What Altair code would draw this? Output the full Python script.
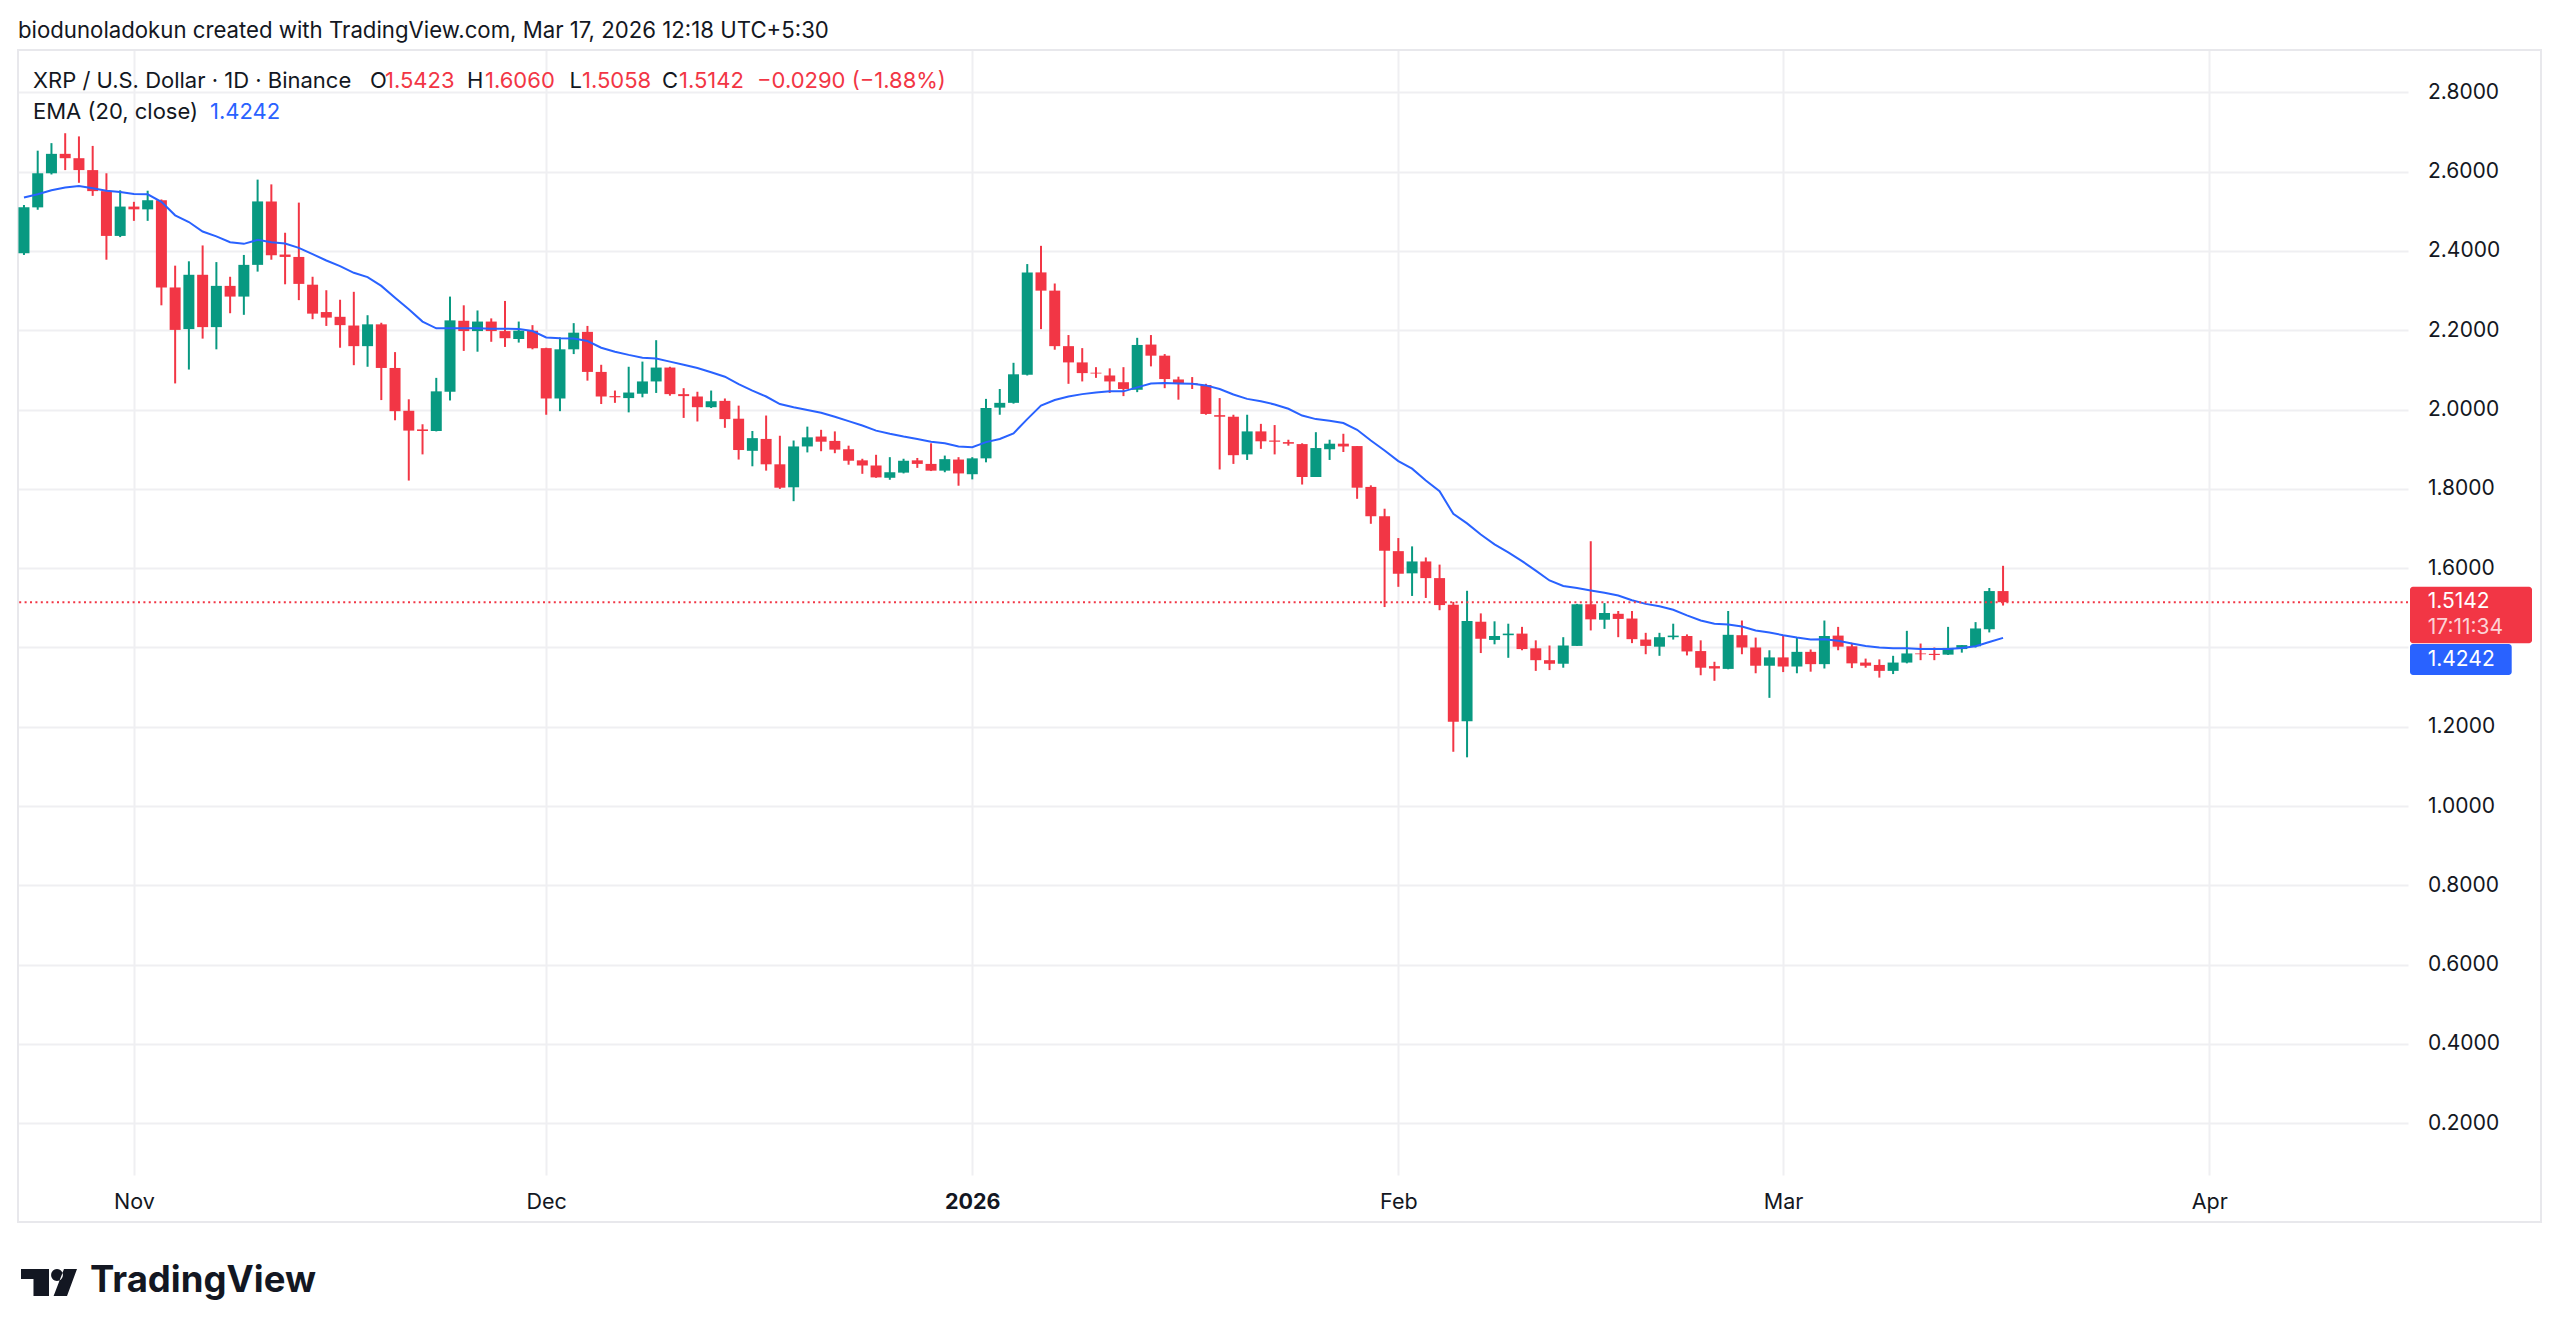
import altair as alt
import pandas as pd
import numpy as np

# ---------------- data ----------------
first_day = "2025-10-24"
last_day = "2026-03-17"
ref_day = "2025-11-01"

opens_oct = [2.394, 2.510, 2.596, 2.645, 2.634, 2.604, 2.551, 2.438]
highs_oct = [2.516, 2.653, 2.672, 2.697, 2.689, 2.665, 2.596, 2.553]
lows_oct = [2.390, 2.504, 2.593, 2.604, 2.572, 2.539, 2.378, 2.435]
closes_oct = [2.510, 2.596, 2.645, 2.634, 2.604, 2.551, 2.438, 2.512]
ema_oct = [2.535, 2.543, 2.553, 2.560, 2.564, 2.558, 2.552, 2.549]

opens_nov = [2.512, 2.505, 2.528, 2.308, 2.203, 2.340, 2.208, 2.312, 2.285, 2.365,
             2.525, 2.391, 2.385, 2.315, 2.246, 2.234, 2.212, 2.160, 2.215, 2.105,
             1.997, 1.950, 1.946, 2.045, 2.224, 2.198, 2.222, 2.198, 2.178, 2.199]
highs_nov = [2.524, 2.552, 2.530, 2.363, 2.374, 2.414, 2.372, 2.335, 2.390, 2.580,
             2.568, 2.446, 2.522, 2.335, 2.301, 2.277, 2.297, 2.238, 2.219, 2.145,
             2.026, 1.963, 2.080, 2.285, 2.263, 2.250, 2.230, 2.274, 2.222, 2.213]
lows_nov = [2.476, 2.476, 2.263, 2.066, 2.101, 2.179, 2.152, 2.243, 2.239, 2.348,
            2.378, 2.316, 2.276, 2.228, 2.211, 2.156, 2.112, 2.108, 2.024, 1.973,
            1.821, 1.887, 1.945, 2.023, 2.148, 2.146, 2.171, 2.158, 2.169, 2.152]
closes_nov = [2.505, 2.528, 2.308, 2.201, 2.340, 2.208, 2.312, 2.285, 2.365, 2.525,
              2.389, 2.385, 2.317, 2.242, 2.232, 2.213, 2.160, 2.215, 2.105, 1.996,
              1.947, 1.946, 2.046, 2.225, 2.198, 2.222, 2.198, 2.180, 2.199, 2.155]
ema_nov = [2.544, 2.543, 2.524, 2.490, 2.473, 2.449, 2.437, 2.422, 2.418, 2.428,
           2.422, 2.419, 2.408, 2.392, 2.376, 2.362, 2.345, 2.334, 2.312, 2.282,
           2.253, 2.222, 2.205, 2.205, 2.205, 2.205, 2.204, 2.204, 2.203, 2.198]

opens_dec = [2.155, 2.028, 2.152, 2.196, 2.095, 2.034, 2.029, 2.040, 2.071, 2.106,
             2.039, 2.033, 2.006, 2.022, 1.977, 1.896, 1.926, 1.862, 1.804, 1.907,
             1.932, 1.921, 1.900, 1.872, 1.859, 1.828, 1.841, 1.872, 1.863, 1.846, 1.874]
highs_dec = [2.156, 2.182, 2.218, 2.211, 2.113, 2.048, 2.108, 2.121, 2.175, 2.108,
             2.054, 2.045, 2.048, 2.028, 2.010, 1.946, 1.985, 1.934, 1.922, 1.957,
             1.949, 1.945, 1.909, 1.876, 1.886, 1.880, 1.876, 1.878, 1.915, 1.884, 1.880]
lows_dec = [1.987, 1.996, 2.140, 2.073, 2.014, 2.017, 1.993, 2.031, 2.042, 2.035,
            1.979, 1.970, 2.004, 1.954, 1.874, 1.857, 1.846, 1.800, 1.769, 1.892,
            1.895, 1.890, 1.861, 1.838, 1.828, 1.823, 1.839, 1.853, 1.845, 1.842, 1.808]
closes_dec = [2.028, 2.152, 2.194, 2.095, 2.033, 2.031, 2.043, 2.071, 2.106, 2.039,
              2.034, 2.006, 2.021, 1.976, 1.898, 1.928, 1.862, 1.803, 1.907, 1.930,
              1.919, 1.899, 1.871, 1.859, 1.829, 1.842, 1.871, 1.863, 1.846, 1.875, 1.839]
ema_dec = [2.182, 2.180, 2.179, 2.173, 2.156, 2.146, 2.138, 2.131, 2.129, 2.121,
           2.113, 2.105, 2.094, 2.083, 2.064, 2.048, 2.033, 2.014, 2.006, 1.999,
           1.992, 1.982, 1.971, 1.960, 1.947, 1.939, 1.932, 1.926, 1.919, 1.915, 1.907]

opens_jan = [1.837, 1.877, 2.005, 2.017, 2.088, 2.346, 2.300, 2.160, 2.119, 2.093,
             2.086, 2.069, 2.050, 2.164, 2.136, 2.076, 2.067, 2.062, 1.986, 1.982,
             1.887, 1.945, 1.922, 1.918, 1.913, 1.830, 1.900, 1.914, 1.908, 1.805, 1.731]
highs_jan = [1.880, 2.027, 2.052, 2.118, 2.367, 2.413, 2.318, 2.188, 2.155, 2.107,
             2.104, 2.107, 2.181, 2.188, 2.140, 2.083, 2.082, 2.065, 2.029, 1.987,
             1.987, 1.964, 1.961, 1.924, 1.915, 1.943, 1.924, 1.939, 1.908, 1.809, 1.750]
lows_jan = [1.824, 1.867, 1.987, 2.015, 2.086, 2.203, 2.151, 2.065, 2.071, 2.080,
            2.042, 2.034, 2.044, 2.109, 2.054, 2.025, 2.052, 1.987, 1.849, 1.863,
            1.873, 1.901, 1.887, 1.909, 1.811, 1.830, 1.873, 1.893, 1.775, 1.712, 1.502]
closes_jan = [1.877, 2.004, 2.017, 2.089, 2.346, 2.300, 2.160, 2.119, 2.092, 2.091,
              2.071, 2.052, 2.163, 2.136, 2.077, 2.065, 2.065, 1.989, 1.982, 1.885,
              1.945, 1.920, 1.919, 1.914, 1.830, 1.903, 1.914, 1.907, 1.803, 1.731, 1.644]
ema_jan = [1.905, 1.918, 1.926, 1.940, 1.976, 2.010, 2.024, 2.033, 2.039, 2.043,
           2.046, 2.046, 2.056, 2.066, 2.067, 2.066, 2.065, 2.061, 2.052, 2.038,
           2.027, 2.021, 2.013, 2.002, 1.985, 1.976, 1.972, 1.966, 1.949, 1.922, 1.897]

opens_feb = [1.643, 1.587, 1.617, 1.575, 1.508, 1.214, 1.465, 1.419, 1.431, 1.435,
             1.398, 1.368, 1.359, 1.404, 1.509, 1.470, 1.485, 1.473, 1.420, 1.402,
             1.426, 1.429, 1.391, 1.353, 1.346, 1.431, 1.400, 1.354]
highs_feb = [1.676, 1.655, 1.627, 1.609, 1.515, 1.543, 1.486, 1.466, 1.460, 1.452,
             1.418, 1.405, 1.426, 1.510, 1.668, 1.512, 1.492, 1.492, 1.437, 1.437,
             1.460, 1.433, 1.418, 1.364, 1.492, 1.468, 1.425, 1.393]
lows_feb = [1.553, 1.530, 1.525, 1.494, 1.137, 1.123, 1.386, 1.408, 1.374, 1.393,
            1.341, 1.343, 1.349, 1.404, 1.443, 1.447, 1.426, 1.411, 1.383, 1.379,
            1.420, 1.380, 1.330, 1.316, 1.345, 1.383, 1.335, 1.273]
closes_feb = [1.586, 1.617, 1.575, 1.507, 1.213, 1.467, 1.422, 1.429, 1.435, 1.396,
              1.368, 1.359, 1.405, 1.509, 1.471, 1.487, 1.472, 1.421, 1.404, 1.426,
              1.430, 1.390, 1.349, 1.347, 1.432, 1.400, 1.354, 1.375]
ema_feb = [1.870, 1.851, 1.821, 1.794, 1.737, 1.713, 1.685, 1.660, 1.640, 1.618,
           1.594, 1.569, 1.555, 1.550, 1.544, 1.538, 1.531, 1.519, 1.510, 1.504,
           1.495, 1.481, 1.468, 1.460, 1.458, 1.453, 1.443, 1.438]

opens_mar = [1.375, 1.352, 1.389, 1.358, 1.430, 1.403, 1.362, 1.356, 1.341, 1.362,
             1.385, 1.384, 1.382, 1.396, 1.403, 1.446, 1.5423]
highs_mar = [1.431, 1.425, 1.395, 1.468, 1.452, 1.412, 1.372, 1.370, 1.379, 1.442,
             1.410, 1.400, 1.452, 1.406, 1.464, 1.550, 1.6060]
lows_mar = [1.338, 1.335, 1.339, 1.347, 1.393, 1.348, 1.349, 1.324, 1.333, 1.360,
            1.368, 1.368, 1.381, 1.387, 1.400, 1.438, 1.5058]
closes_mar = [1.352, 1.389, 1.358, 1.429, 1.402, 1.360, 1.354, 1.341, 1.362, 1.385,
              1.383, 1.381, 1.399, 1.406, 1.448, 1.5423, 1.5142]
ema_mar = [1.431, 1.425, 1.420, 1.421, 1.417, 1.410, 1.404, 1.400, 1.398, 1.398,
           1.396, 1.396, 1.396, 1.399, 1.403, 1.414, 1.4242]

month_tick_dates = ["2025-11-01", "2025-12-01", "2026-01-01", "2026-02-01", "2026-03-01", "2026-04-01"]
month_tick_labels = ["Nov", "Dec", "2026", "Feb", "Mar", "Apr"]
year_label = "2026"
price_ticks = [0.2, 0.4, 0.6, 0.8, 1.0, 1.2, 1.4, 1.6, 1.8, 2.0, 2.2, 2.4, 2.6, 2.8]
hidden_price_tick = 1.4

header_text = "biodunoladokun created with TradingView.com, Mar 17, 2026 12:18 UTC+5:30"
symbol_text = "XRP / U.S. Dollar \u00b7 1D \u00b7 Binance"
change_text = "\u22120.0290 (\u22121.88%)"
ema_text = "EMA (20, close)"
countdown_text = "17:11:34"
brand_text = "TradingView"

# ---------------- styling ----------------
FONT = "Inter"
TEXT = "#131722"
GREEN = "#089981"
RED = "#F23645"
BLUE = "#2962FF"
GRID = "#efeff2"

W, H = 2390, 1125
PAD_L, PAD_T = 18, 50

# ---------------- table ----------------
opens = opens_oct + opens_nov + opens_dec + opens_jan + opens_feb + opens_mar
highs = highs_oct + highs_nov + highs_dec + highs_jan + highs_feb + highs_mar
lows = lows_oct + lows_nov + lows_dec + lows_jan + lows_feb + lows_mar
closes = closes_oct + closes_nov + closes_dec + closes_jan + closes_feb + closes_mar
ema = ema_oct + ema_nov + ema_dec + ema_jan + ema_feb + ema_mar

dates = pd.date_range(first_day, last_day, freq="D")
ref = pd.Timestamp(ref_day)
df = pd.DataFrame({
    "date": dates.strftime("%Y-%m-%d"),
    "d": (dates - ref).days,
    "open": opens, "high": highs, "low": lows, "close": closes, "ema": ema,
})
df["dir"] = np.where(df["close"] >= df["open"], "up", "down")

tick_days = [int((pd.Timestamp(t) - ref).days) for t in month_tick_dates]
year_day = tick_days[month_tick_labels.index(year_label)]
label_expr = ""
for dd, lab in zip(tick_days, month_tick_labels):
    label_expr += f"datum.value == {dd} ? '{lab}' : "
label_expr += "''"

x_scale = alt.Scale(domain=[-8.07, 165.1], nice=False, zero=False)
y_scale = alt.Scale(domain=[0.0696, 2.9069], nice=False, zero=False)

x_axis = alt.Axis(
    values=tick_days, labelExpr=label_expr, title=None, grid=True,
    gridColor=GRID, gridWidth=2, domain=False, ticks=False, tickSize=0,
    labelPadding=27, labelBaseline="middle", labelFontSize=21.5, labelFont=FONT,
    labelColor=TEXT,
    labelFontWeight={"condition": {"test": f"datum.value == {year_day}", "value": "bold"}, "value": "normal"},
)
y_axis = alt.Axis(
    orient="right", values=price_ticks, title=None, grid=True,
    labelExpr=f"abs(datum.value - {hidden_price_tick}) < 0.001 ? '' : format(datum.value, '.4f')",
    gridColor=GRID, gridWidth=2, domain=False, ticks=False, tickSize=0,
    labelPadding=19.5, labelAlign="left", labelBaseline="middle",
    labelFontSize=21, labelFont=FONT, labelColor=TEXT,
)

X = alt.X("d:Q", scale=x_scale, axis=x_axis)
color = alt.Color("dir:N", scale=alt.Scale(domain=["up", "down"], range=[GREEN, RED]), legend=None)

base = alt.Chart(df)
wicks = base.mark_rule(strokeWidth=2, clip=True).encode(
    x=X, y=alt.Y("low:Q", scale=y_scale, axis=y_axis), y2="high:Q", color=color)
bodies = base.mark_bar(size=11, clip=True).encode(
    x=X, y=alt.Y("open:Q", scale=y_scale, axis=y_axis), y2="close:Q", color=color)
ema_line = base.mark_line(color=BLUE, strokeWidth=2, clip=True).encode(
    x=X, y=alt.Y("ema:Q", scale=y_scale, axis=y_axis))

last = pd.DataFrame({"p": [closes[-1]]})
price_line = alt.Chart(last).mark_rule(color=RED, strokeWidth=2, strokeDash=[2, 3.4]).encode(
    y=alt.Y("p:Q", scale=y_scale, axis=y_axis))

one = pd.DataFrame({"k": [0]})


def text(t, x, y, col=TEXT, size=22, weight="normal", align="left"):
    return alt.Chart(one).mark_text(
        align=align, baseline="middle", font=FONT, fontSize=size,
        fontWeight=weight, color=col,
    ).encode(x=alt.value(x), y=alt.value(y), text=alt.value(t))


def box(x1, x2, y1, y2, col, radius=3):
    return alt.Chart(one).mark_rect(color=col, cornerRadius=radius).encode(
        x=alt.value(x1), x2=alt.value(x2), y=alt.value(y1), y2=alt.value(y2))


frame = alt.Chart(one).mark_rect(fill="transparent", stroke="#e8e8ec", strokeWidth=2).encode(
    x=alt.value(0), x2=alt.value(2523), y=alt.value(0), y2=alt.value(1172))

o, h, l, c = opens[-1], highs[-1], lows[-1], closes[-1]

LY1, LY2 = 31, 62
legend = [
    text(header_text, 0, -19, size=22.2),
    text(symbol_text, 15, LY1),
    text("O", 352, LY1), text(f"{o:.4f}", 367, LY1, RED),
    text("H", 449, LY1), text(f"{h:.4f}", 467, LY1, RED),
    text("L", 551.5, LY1), text(f"{l:.4f}", 564, LY1, RED),
    text("C", 644, LY1), text(f"{c:.4f}", 661, LY1, RED),
    text(change_text, 739, LY1, RED),
    text(ema_text, 15, LY2), text(f"{ema[-1]:.4f}", 192, LY2, BLUE),
]

labels = [
    box(2392, 2514, 536.7, 593.3, RED),
    text(f"{c:.4f}", 2409.7, 552.3, "white", size=21),
    text(countdown_text, 2409.7, 578.3, "#fcd2d6", size=21),
    box(2392, 2493.7, 594, 625, BLUE),
    text(f"{ema[-1]:.4f}", 2409.7, 609.5, "white", size=21),
]

logo_path = ("M-0.898,-0.458 L0.051,-0.458 L0.051,0.458 L-0.475,0.458 L-0.475,-0.119 L-0.898,-0.119 Z "
             "M0.122,-0.254 A0.2,0.2 0 1,0 0.522,-0.254 A0.2,0.2 0 1,0 0.122,-0.254 Z "
             "M0.559,-0.458 L1.0,-0.458 L0.661,0.458 L0.207,0.458 Z")
logo_icon = alt.Chart(one).mark_point(shape=logo_path, filled=True, color=TEXT, opacity=1, size=3481).encode(
    x=alt.value(29.5), y=alt.value(1232.5))
logo_text = text(brand_text, 72, 1231, size=36.5, weight="bold")

chart = alt.layer(
    frame, wicks, bodies, ema_line, price_line, *legend, *labels, logo_icon, logo_text
).properties(
    width=W, height=H,
    padding={"left": PAD_L, "top": PAD_T, "right": 2560 - PAD_L - W, "bottom": 1336 - PAD_T - H},
    autosize=alt.AutoSizeParams(type="none"),
    background="white",
).configure_view(stroke=None)

chart.save("out.html", embed_options={"renderer": "svg", "actions": False})
